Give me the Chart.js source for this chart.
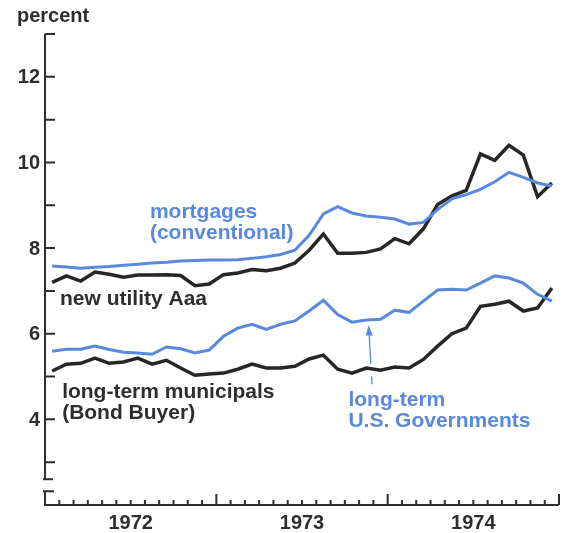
<!DOCTYPE html>
<html>
<head>
<meta charset="utf-8">
<script src="https://cdn.jsdelivr.net/npm/chart.js@4"></script>
<style>
  html, body { margin: 0; padding: 0; background: #fff; }
  #wrap { width: 568px; height: 533px; }
</style>
</head>
<body>
<div id="wrap"><canvas id="myChart" width="568" height="533"></canvas></div>
<script>
// monthly, Jan 1972 .. Dec 1974
let months = [];
["1972", "1973", "1974"].forEach(y => {
  for (let m = 1; m <= 12; m++) months.push(y + "-" + (m < 10 ? "0" + m : m));
});
let years = ["1972", "1973", "1974"];

let mortgages = [
  7.58, 7.56, 7.53, 7.55, 7.57, 7.60, 7.62, 7.65, 7.67, 7.70, 7.71, 7.72,
  7.72, 7.73, 7.76, 7.80, 7.85, 7.95, 8.30, 8.80, 8.97, 8.82, 8.75, 8.72,
  8.68, 8.56, 8.60, 8.90, 9.15, 9.25, 9.37, 9.55, 9.77, 9.65, 9.52, 9.45
];
let utility = [
  7.20, 7.35, 7.23, 7.44, 7.39, 7.32, 7.37, 7.37, 7.38, 7.36, 7.12, 7.16,
  7.38, 7.42, 7.50, 7.47, 7.53, 7.65, 7.95, 8.33, 7.88, 7.88, 7.90, 7.98,
  8.22, 8.10, 8.45, 9.02, 9.22, 9.35, 10.20, 10.05, 10.40, 10.17, 9.20, 9.52
];
let governments = [
  5.59, 5.64, 5.64, 5.71, 5.63, 5.57, 5.55, 5.52, 5.69, 5.65, 5.55, 5.62,
  5.94, 6.13, 6.22, 6.10, 6.22, 6.30, 6.53, 6.78, 6.45, 6.27, 6.32, 6.34,
  6.55, 6.50, 6.76, 7.02, 7.04, 7.02, 7.18, 7.35, 7.30, 7.18, 6.92, 6.76
];
let municipals = [
  5.13, 5.29, 5.31, 5.43, 5.31, 5.34, 5.43, 5.29, 5.38, 5.20, 5.03, 5.06,
  5.08, 5.17, 5.29, 5.20, 5.20, 5.24, 5.41, 5.50, 5.17, 5.08, 5.20, 5.15,
  5.22, 5.20, 5.40, 5.71, 6.00, 6.13, 6.64, 6.69, 6.76, 6.53, 6.60, 7.07
];

let yMajor = [4, 6, 8, 10, 12];
let yMinor = [3, 5, 7, 9, 11, 13];

const BLUE = "#5a88dc";
const BLACK = "#262626";
const INK = "#2e2e2e";
const FAMILY = "'Liberation Sans', Arial, sans-serif";

let pts = (arr) => arr.map((v, i) => ({ x: i + 0.5, y: v }));

// text notes placed in data units (x in months from Jan 1972, y in percent)
let notes = [
  { lines: ["mortgages", "(conventional)"], x: 7.35, y: 8.7, color: BLUE },
  { lines: ["new utility Aaa"], x: 1.05, y: 6.68, color: INK },
  { lines: ["long-term municipals", "(Bond Buyer)"], x: 1.2, y: 4.49, color: INK },
  { lines: ["long-term", "U.S. Governments"], x: 21.25, y: 4.31, color: BLUE }
];

let frame = {
  id: "frame",
  afterDraw(chart) {
    const ctx = chart.ctx;
    const xs = chart.scales.x, ys = chart.scales.y;
    const X = (v) => xs.getPixelForValue(v);
    const Y = (v) => ys.getPixelForValue(v);
    const x0 = X(0), x1 = X(36);
    ctx.save();
    ctx.strokeStyle = INK;
    ctx.lineWidth = 2;
    ctx.lineCap = "butt";

    // y axis with break
    ctx.beginPath();
    ctx.moveTo(x0, Y(13));
    ctx.lineTo(x0, Y(2.6));
    ctx.moveTo(x0 - 2, Y(2.6));
    ctx.lineTo(x0 + 8, Y(2.6));
    ctx.moveTo(x0 - 2, Y(2.32));
    ctx.lineTo(x0 + 9, Y(2.32));
    ctx.moveTo(x0, Y(2.32));
    ctx.lineTo(x0, Y(2) + 1);
    yMajor.concat(yMinor).forEach(v => {
      ctx.moveTo(x0, Y(v));
      ctx.lineTo(x0 + 10, Y(v));
    });
    // x axis
    ctx.moveTo(x0 - 1, Y(2));
    ctx.lineTo(x1, Y(2));
    for (let m = 1; m <= 36; m++) {
      const len = (m % 12 === 0) ? 11 : 5;
      ctx.moveTo(X(m), Y(2));
      ctx.lineTo(X(m), Y(2) - len);
    }
    ctx.stroke();

    ctx.fillStyle = INK;
    ctx.font = "bold 20px " + FAMILY;
    ctx.textAlign = "right";
    ctx.textBaseline = "middle";
    yMajor.forEach(v => ctx.fillText(String(v), x0 - 5, Y(v) + 1));

    ctx.textAlign = "center";
    ctx.textBaseline = "alphabetic";
    years.forEach((y, i) => ctx.fillText(y, X(i * 12 + 6), Y(2) + 24));

    ctx.textAlign = "left";
    ctx.fillText("percent", 17, 22);

    ctx.font = "bold 21px " + FAMILY;
    notes.forEach(n => {
      ctx.fillStyle = n.color;
      n.lines.forEach((t, k) => ctx.fillText(t, X(n.x), Y(n.y) + k * 21));
    });

    // arrow to the governments line
    ctx.strokeStyle = BLUE;
    ctx.fillStyle = BLUE;
    ctx.lineWidth = 1.3;
    const ax = (v) => X(22.67 + (6.2 - v) * 0.17);
    ctx.beginPath();
    ctx.moveTo(ax(6.0), Y(6.0));
    ctx.lineTo(ax(5.3), Y(5.3));
    ctx.moveTo(ax(5.0), Y(5.0));
    ctx.lineTo(ax(4.82), Y(4.82));
    ctx.stroke();
    ctx.beginPath();
    ctx.moveTo(ax(6.2), Y(6.2));
    ctx.lineTo(ax(5.96) - 3.5, Y(5.96));
    ctx.lineTo(ax(5.96) + 3.5, Y(5.96));
    ctx.closePath();
    ctx.fill();
    ctx.restore();
  }
};

let line = (data, color, w) => ({
  data: pts(data),
  borderColor: color,
  borderWidth: w,
  pointRadius: 0,
  tension: 0,
  fill: false
});

const ctx = document.getElementById("myChart");
const chart = new Chart(ctx, {
  type: "line",
  data: {
    datasets: [
      line(mortgages, BLUE, 3),
      line(utility, BLACK, 3.5),
      line(governments, BLUE, 3),
      line(municipals, BLACK, 3.5)
    ]
  },
  options: {
    responsive: false,
    animation: false,
    layout: { padding: { left: 45, top: 34, right: 9, bottom: 28 } },
    plugins: { legend: { display: false }, tooltip: { enabled: false } },
    scales: {
      x: { type: "linear", min: 0, max: 36, display: false },
      y: { type: "linear", min: 2, max: 13, display: false }
    }
  },
  plugins: [frame]
});
</script>
</body>
</html>
